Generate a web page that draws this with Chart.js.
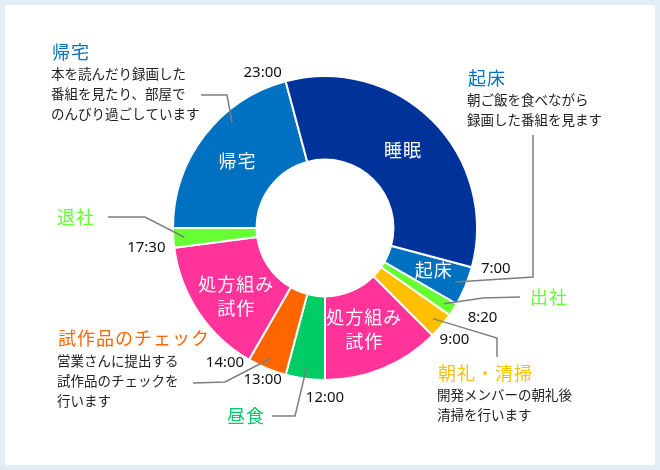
<!DOCTYPE html>
<html lang="ja">
<head>
<meta charset="utf-8">
<script src="https://cdn.jsdelivr.net/npm/chart.js@4"></script>
<style>
  html, body { margin: 0; padding: 0; background: #e3edf5; }
  #wrap { position: relative; width: 660px; height: 470px; }
  #panel { position: absolute; left: 5px; top: 5px; width: 650px; height: 460px; background: #fff; }
  #day { position: absolute; left: 0; top: 0; }
</style>
</head>
<body>
<div id="wrap">
  <div id="panel"></div>
  <canvas id="day" width="660" height="470"></canvas>
</div>
<script>
// ========== DATA - one day, starting at 7:00 ==========

const startHour = 7;
const activities = ['起床', '出社', '朝礼・清掃', '処方組み試作', '昼食', '試作品のチェック', '処方組み試作', '退社', '帰宅', '睡眠'];
const minutes = [60, 20, 40, 180, 60, 60, 210, 30, 300, 480];
const startTimes = ['7:00', '', '8:20', '9:00', '12:00', '13:00', '14:00', '17:30', '', '23:00'];
const innerLabels = [['起床'], [], [], ['処方組み', '試作'], [], [], ['処方組み', '試作'], [], ['帰宅'], ['睡眠']];

const COLORS = ['#0070c0', '#66ff33', '#ffc000', '#ff3399', '#00cc66', '#ff6600', '#ff3399', '#66ff33', '#0070c0', '#003399'];

// callout notes: segment index, title, description lines
const notes = [
    { seg: 8, title: '帰宅', lines: ['本を読んだり録画した', '番組を見たり、部屋で', 'のんびり過ごしています'] },
    { seg: 0, title: '起床', lines: ['朝ご飯を食べながら', '録画した番組を見ます'] },
    { seg: 1, title: '出社', lines: [] },
    { seg: 2, title: '朝礼・清掃', lines: ['開発メンバーの朝礼後', '清掃を行います'] },
    { seg: 7, title: '退社', lines: [] },
    { seg: 5, title: '試作品のチェック', lines: ['営業さんに提出する', '試作品のチェックを', '行います'] },
    { seg: 4, title: '昼食', lines: [] }
];

// ========== LAYOUT (pixels) ==========

const noteLayout = {
    8: { x: 52, y: 52, dy: 74, path: [[201, 95], [227, 95]], frac: 0.65 },
    0: { x: 468, y: 78, dy: 100, path: [[533, 135], [533, 277]] },
    1: { x: 530, y: 297, path: [[520, 297], [483, 298]] },
    2: { x: 438, y: 373, dy: 395, path: [[497, 357], [497, 338]] },
    7: { x: 57, y: 217, path: [[108, 217], [145, 217]] },
    5: { x: 58, y: 338, dy: 361, path: [[193, 383], [225, 382]] },
    4: { x: 227, y: 416, path: [[272, 416], [295, 416]] }
};
const timeOffsets = { 0: [24, 1], 2: [33, 3], 3: [22, 4], 4: [0, 18], 5: [-23, 5], 6: [-24, 3], 7: [-28, 0], 9: [-23, -8] };
const innerOffsets = { 0: [7, 0], 3: [-3, -1], 6: [3, 7] };

const JP = '"Noto Sans CJK JP", "Noto Sans", sans-serif';

function polar(arc, angle, r) {
    return [arc.x + r * Math.cos(angle), arc.y + r * Math.sin(angle)];
}

const dayLabels = {
    id: 'dayLabels',
    afterDatasetsDraw(chart) {
        const ctx = chart.ctx;
        const arcs = chart.getDatasetMeta(0).data;
        ctx.save();

        // labels inside the ring
        ctx.fillStyle = '#fff';
        ctx.font = '18px ' + JP;
        ctx.letterSpacing = '1px';
        ctx.textAlign = 'center';
        ctx.textBaseline = 'middle';
        arcs.forEach((arc, i) => {
            const lines = innerLabels[i];
            if (!lines.length) return;
            const mid = (arc.startAngle + arc.endAngle) / 2;
            const [px, py] = polar(arc, mid, (arc.innerRadius + arc.outerRadius) / 2);
            const off = innerOffsets[i] || [0, 0];
            lines.forEach((t, k) => {
                ctx.fillText(t, px + off[0], py + off[1] + (k - (lines.length - 1) / 2) * 24);
            });
        });

        // times on the boundaries
        ctx.fillStyle = '#111';
        ctx.font = '15px "Noto Sans", sans-serif';
        ctx.letterSpacing = '0px';
        arcs.forEach((arc, i) => {
            if (!startTimes[i]) return;
            const [px, py] = polar(arc, arc.startAngle, arc.outerRadius);
            const off = timeOffsets[i] || [0, 0];
            ctx.fillText(startTimes[i], px + off[0], py + off[1]);
        });

        // callouts
        notes.forEach(n => {
            const arc = arcs[n.seg];
            const L = noteLayout[n.seg];
            const frac = L.frac ?? 0.5;
            const ang = arc.startAngle + (arc.endAngle - arc.startAngle) * frac;
            const end = polar(arc, ang, arc.outerRadius - 11);

            ctx.strokeStyle = '#7f7f7f';
            ctx.lineWidth = 1.5;
            ctx.beginPath();
            ctx.moveTo(L.path[0][0], L.path[0][1]);
            L.path.slice(1).forEach(p => ctx.lineTo(p[0], p[1]));
            ctx.lineTo(end[0], end[1]);
            ctx.stroke();

            ctx.textAlign = 'left';
            ctx.fillStyle = COLORS[n.seg];
            ctx.font = '18px ' + JP;
            ctx.letterSpacing = '1px';
            ctx.fillText(n.title, L.x, L.y);

            ctx.fillStyle = '#222';
            ctx.font = '13.5px ' + JP;
            ctx.letterSpacing = '0px';
            n.lines.forEach((t, k) => ctx.fillText(t, L.x - 1, L.dy + k * 20));
        });

        ctx.restore();
    }
};

new Chart(document.getElementById('day'), {
    type: 'doughnut',
    data: {
        labels: activities,
        datasets: [{
            data: minutes,
            backgroundColor: COLORS,
            borderColor: '#fff',
            borderWidth: 2
        }]
    },
    options: {
        responsive: false,
        animation: false,
        rotation: startHour * 15,
        radius: 152,
        cutout: '45%',
        layout: { padding: { left: 0, right: 10, top: 0, bottom: 14 } },
        plugins: { legend: { display: false }, tooltip: { enabled: false } }
    },
    plugins: [dayLabels]
});
</script>
</body>
</html>
